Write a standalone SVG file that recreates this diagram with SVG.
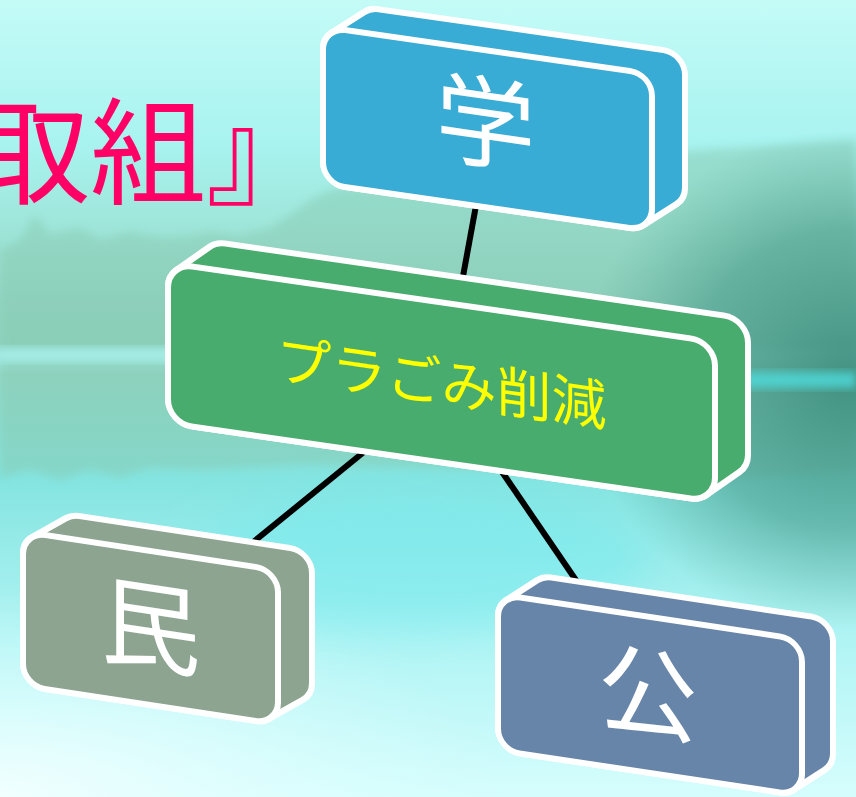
<svg xmlns="http://www.w3.org/2000/svg" width="856" height="797" viewBox="0 0 856 797">
<style>
.face{stroke:#ffffff;stroke-width:6;stroke-linejoin:round}
.big{font-family:"Noto Sans CJK JP","Noto Sans CJK SC",sans-serif;font-size:100px;fill:#ffffff;text-anchor:middle}
.lbl{font-family:"Noto Sans CJK JP","Noto Sans CJK SC",sans-serif;font-size:55px;fill:#ffff00;text-anchor:middle}
.title{font-family:"Noto Sans CJK JP","Noto Sans CJK SC",sans-serif;font-size:116px;font-weight:400;fill:#ff0066}
.conn{stroke:#000000;stroke-width:6;fill:none}
</style>
<defs>
<linearGradient id="sky" x1="0" y1="0" x2="0" y2="1">
<stop offset="0" stop-color="#c4fbf7"/>
<stop offset="0.18" stop-color="#a8f3f0"/>
<stop offset="0.28" stop-color="#9fe6da"/>
<stop offset="0.38" stop-color="#93d6c4"/>
<stop offset="0.43" stop-color="#8fd4c2"/>
<stop offset="0.445" stop-color="#a4eeea"/>
<stop offset="0.47" stop-color="#93dac9"/>
<stop offset="0.6" stop-color="#84e4e0"/>
<stop offset="0.8" stop-color="#b0f4f4"/>
<stop offset="1" stop-color="#d6fdfd"/>
</linearGradient>
<radialGradient id="dark" cx="0.5" cy="0.5" r="0.5">
<stop offset="0" stop-color="#3e8e7e" stop-opacity="0.95"/>
<stop offset="0.6" stop-color="#4a9c8c" stop-opacity="0.6"/>
<stop offset="1" stop-color="#5aaa9a" stop-opacity="0"/>
</radialGradient>
<radialGradient id="light" cx="0" cy="1" r="0.6">
<stop offset="0" stop-color="#f2ffff" stop-opacity="0.95"/>
<stop offset="1" stop-color="#e0ffff" stop-opacity="0"/>
</radialGradient>
<filter id="b4" x="-20%" y="-20%" width="140%" height="140%"><feGaussianBlur stdDeviation="4"/></filter>
<filter id="b20" x="-50%" y="-50%" width="200%" height="200%"><feGaussianBlur stdDeviation="20"/></filter>
</defs>

<g id="background">
<rect x="0" y="0" width="856" height="797" fill="url(#sky)"/>
<path d="M0,250 L20,240 L35,215 L50,235 L80,228 L100,240 L130,232 L160,238 L190,236 L210,232 L240,236 L270,228 L290,215 L310,200 L330,190 L360,185 L400,178 L450,175 L520,168 L600,160 L700,150 L856,140 L856,470 L700,480 L500,470 L300,465 L200,470 L150,468 L120,478 L90,470 L60,480 L30,470 L0,478 Z" fill="#86c8ae" opacity="0.45" filter="url(#b4)"/>
<ellipse cx="850" cy="380" rx="270" ry="250" fill="url(#dark)"/>
<rect x="0" y="348" width="420" height="14" fill="#aef6f4" opacity="0.6" filter="url(#b4)"/>
<rect x="660" y="372" width="196" height="16" fill="#50dcdc" opacity="0.8" filter="url(#b4)"/>
<ellipse cx="420" cy="560" rx="230" ry="70" fill="#78eaee" opacity="0.55" filter="url(#b20)"/>
<rect x="0" y="450" width="856" height="347" fill="url(#light)"/>
</g>

<text class="title" x="-26" y="195">取組』</text>

<g id="connectors">
<line class="conn" x1="477" y1="200" x2="455" y2="320"/>
<line class="conn" x1="370" y1="447" x2="225" y2="565"/>
<line class="conn" x1="498" y1="466" x2="597" y2="611"/>
</g>

<g id="node-gaku" transform="translate(487.5,129) skewY(8.14)">
<path class="face" fill="#38acd4" d="M-164.5,-56.5 A22,22 0 0 1 -156.02,-73.86 L-123.02,-99.56 A22,22 0 0 1 -109.5,-104.2 L175.5,-104.2 A22,22 0 0 1 197.5,-82.2 L197.5,30.8 A22,22 0 0 1 189.02,48.16 L156.02,73.86 A22,22 0 0 1 142.5,78.5 L-142.5,78.5 A22,22 0 0 1 -164.5,56.5 Z"/>
<rect class="face" fill="#38acd4" x="-164.5" y="-78.5" width="329" height="157" rx="22"/>
<text class="big" x="-2" y="31">学</text>
</g>

<g id="node-main" transform="translate(441.5,382.5) skewY(8.2)">
<path class="face" fill="#48ac6e" d="M-273.5,-56 A24,24 0 0 1 -264.96,-74.36 L-231.96,-102.16 A24,24 0 0 1 -216.5,-107.8 L282.5,-107.8 A24,24 0 0 1 306.5,-83.8 L306.5,28.2 A24,24 0 0 1 297.96,46.56 L264.96,74.36 A24,24 0 0 1 249.5,80 L-249.5,80 A24,24 0 0 1 -273.5,56 Z"/>
<rect class="face" fill="#48ac6e" x="-273.5" y="-80" width="547" height="160" rx="24"/>
<text class="lbl" x="0" y="20">プラごみ削減</text>
</g>

<g id="node-min" transform="translate(150.5,628) skewY(8.64)">
<path class="face" fill="#8da491" d="M-127.5,-55 A22,22 0 0 1 -118.26,-72.92 L-84.26,-97.12 A22,22 0 0 1 -71.5,-101.2 L139.5,-101.2 A22,22 0 0 1 161.5,-79.2 L161.5,30.8 A22,22 0 0 1 152.26,48.72 L118.26,72.92 A22,22 0 0 1 105.5,77 L-105.5,77 A22,22 0 0 1 -127.5,55 Z"/>
<rect class="face" fill="#8da491" x="-127.5" y="-77" width="255" height="154" rx="22"/>
<text class="big" x="0" y="35">民</text>
</g>

<g id="node-ko" transform="translate(650,695) skewY(8.53)">
<path class="face" fill="#6785a8" d="M-152,-56 A22,22 0 0 1 -143.69,-73.22 L-112.69,-97.87 A22,22 0 0 1 -99,-102.65 L161,-102.65 A22,22 0 0 1 183,-80.65 L183,31.35 A22,22 0 0 1 174.69,48.57 L143.69,73.22 A22,22 0 0 1 130,78 L-130,78 A22,22 0 0 1 -152,56 Z"/>
<rect class="face" fill="#6785a8" x="-152" y="-78" width="304" height="156" rx="22"/>
<text class="big" x="-2" y="35">公</text>
</g>
</svg>
